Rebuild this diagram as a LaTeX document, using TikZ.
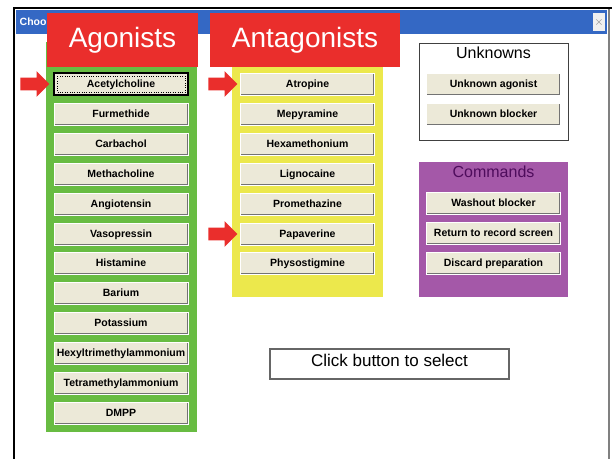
\documentclass[tikz,border=0pt]{standalone}
\usepackage{fontspec}
\setmainfont{Liberation Sans}
\usetikzlibrary{shapes.arrows}
\definecolor{titleblue}{RGB}{52,104,196}
\definecolor{tagred}{RGB}{234,46,44}
\definecolor{agogreen}{RGB}{104,188,66}
\definecolor{antyellow}{RGB}{236,232,76}
\definecolor{cmdpurple}{RGB}{164,88,168}
\definecolor{cmdtext}{RGB}{78,12,92}
\definecolor{btnface}{RGB}{236,233,216}
\newcommand{\btnfont}{\bfseries\fontsize{10.5}{12}\selectfont}
\tikzstyle{btn}=[rectangle, draw=white, fill=btnface, thin, minimum width=134pt, minimum height=22pt, inner sep=0pt, text height=7.6pt, text depth=0pt, font=\btnfont,
    path picture={\draw[black!55, line width=3pt] (path picture bounding box.north east) -- (path picture bounding box.south east) -- (path picture bounding box.south west);}]
\tikzstyle{focus}=[draw=black, line width=1.2pt]
\tikzstyle{tag}=[rectangle, fill=tagred, text=white, minimum height=54pt, font=\fontsize{28}{32}\selectfont]
\tikzstyle{panel}=[rectangle, inner sep=0pt]
\tikzstyle{pointer}=[single arrow, fill=tagred, anchor=tip, minimum height=29pt, minimum width=25pt, single arrow head extend=6.5pt, inner sep=6pt]
\tikzstyle{heading}=[font=\fontsize{16}{18}\selectfont]

\begin{document}
\begin{tikzpicture}[x=1pt, y=-1pt, thick]
                \useasboundingbox (0,0) rectangle (612,458);
                \fill[white] (0,0) rectangle (612,458);
                % window
                \draw[line width=2pt] (14,460) -- (14,8) -- (612,8);
                \draw[gray, line width=1.5pt] (609,9) -- (609,460);
                \fill[titleblue] (16,10) rectangle (607,34);
                \node[anchor=west, text=white, font=\btnfont] (ttl) at (16,22) {Choo};
                \node[rectangle, fill=gray!12, text=gray, minimum width=12pt, minimum height=18pt, inner sep=0pt, font=\large] (close) at (599,22) {$\times$};
                % panels
                \node[panel, fill=agogreen, minimum width=151pt, minimum height=390pt] (ago) at (121.5,237) {};
                \node[panel, fill=antyellow, minimum width=151pt, minimum height=255pt] (ant) at (307.5,169.5) {};
                \node[panel, fill=cmdpurple, minimum width=149pt, minimum height=135pt] (cmd) at (493.5,229.5) {};
                \node[panel, draw=black!75, fill=white, minimum width=149pt, minimum height=97pt] (unk) at (493.5,91.5) {};
                \node[tag, minimum width=151pt] (agot) at (122.5,40) {Agonists};
                \node[tag, minimum width=190pt] (antt) at (305,40) {Antagonists};
                \node[heading] (unkt) at (493.5,53) {Unknowns};
                \node[heading, text=cmdtext] (cmdt) at (493.5,172) {Commands};
                % agonists
                \node[btn, focus] (ach) at (121,84) {Acetylcholine};
                \node[btn] (fur) at (121,114) {Furmethide};
                \node[btn] (carb) at (121,144) {Carbachol};
                \node[btn] (meth) at (121,174) {Methacholine};
                \node[btn] (ang) at (121,204) {Angiotensin};
                \node[btn] (vas) at (121,234) {Vasopressin};
                \node[btn] (hist) at (121,263) {Histamine};
                \node[btn] (bar) at (121,293) {Barium};
                \node[btn] (pot) at (121,323) {Potassium};
                \node[btn] (hex) at (121,353) {Hexyltrimethylammonium};
                \node[btn] (tma) at (121,383) {Tetramethylammonium};
                \node[btn] (dmpp) at (121,413) {DMPP};
                \draw[dotted, thin] ([shift={(3.5pt,-3.5pt)}]ach.north west) rectangle ([shift={(-3.5pt,3.5pt)}]ach.south east);
                % antagonists
                \node[btn] (atr) at (307.5,84) {Atropine};
                \node[btn] (mep) at (307.5,114) {Mepyramine};
                \node[btn] (hxm) at (307.5,144) {Hexamethonium};
                \node[btn] (lig) at (307.5,174) {Lignocaine};
                \node[btn] (prom) at (307.5,204) {Promethazine};
                \node[btn] (pap) at (307.5,234) {Papaverine};
                \node[btn] (phys) at (307.5,263) {Physostigmine};
                % unknowns and commands
                \node[btn] (ua) at (493.5,84) {Unknown agonist};
                \node[btn] (ub) at (493.5,114) {Unknown blocker};
                \node[btn] (wash) at (493.5,203) {Washout blocker};
                \node[btn] (ret) at (493.5,233) {Return to record screen};
                \node[btn] (disc) at (493.5,263) {Discard preparation};
                % status line
                \node[rectangle, draw=black!60, line width=1.5pt, minimum width=239pt, inner sep=3pt, text height=14pt, text depth=10pt, font=\fontsize{17}{20}\selectfont] (stat) at (389.5,364) {Click button to select};
                % red pointers
                \node[pointer] (p1) at (50,84) {};
                \node[pointer] (p2) at (238,84) {};
                \node[pointer] (p3) at (238,234) {};
            \end{tikzpicture}
\end{document}
